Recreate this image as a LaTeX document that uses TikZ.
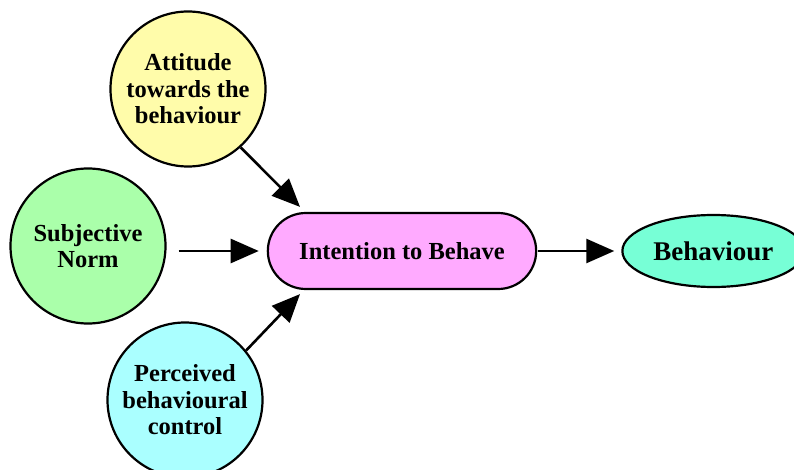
\documentclass[tikz,border=0pt]{standalone}
\usepackage{fontspec}
\setmainfont{Liberation Serif}
\usepackage{tikz}
\usetikzlibrary{arrows.meta,positioning,shapes.geometric,shapes.misc}
\usepackage{xcolor}
\definecolor{tpbyellow}{HTML}{FFFCAA}
\definecolor{tpbgreen}{HTML}{AAFFAA}
\definecolor{tpbcyan}{HTML}{AAFFFF}
\definecolor{tpbpink}{HTML}{FFAAFF}
\definecolor{tpbaqua}{HTML}{77FFD6}

\begin{document}
\begin{tikzpicture}[x=1pt, y=-1pt, node distance=84pt,
  every node/.style={font=\fontsize{24.5}{26.5}\selectfont\bfseries, line width=2.2pt, align=center},
  factor/.style={circle, draw, minimum size=155pt, inner sep=0pt},
  arr/.style={line width=2.6pt, -{Triangle[length=28pt,width=24pt]}}]
\useasboundingbox (0,0) rectangle (794,470);
\node[rounded rectangle, draw, fill=tpbpink, minimum width=275pt, minimum height=76pt] (int) at (402,251) {Intention to Behave};
\node[ellipse, draw, fill=tpbaqua, minimum width=182pt, minimum height=72pt, inner sep=0pt, right=of int, font=\fontsize{27}{29}\selectfont\bfseries] (beh) {Behaviour};
\node[factor, fill=tpbyellow] (att) at (188,89) {Attitude\\towards the\\behaviour};
\node[factor, fill=tpbgreen] (sub) at (88,246) {Subjective\\Norm};
\node[factor, fill=tpbcyan] (per) at (185,400) {Perceived\\behavioural\\control};
\draw[arr] (att.-48) -- ([xshift=-102pt,yshift=5pt]int.north);
\draw[arr, shorten <=12pt, shorten >=8pt] (int.west -| sub.east) -- (int.west);
\draw[arr] (per.39) -- ([xshift=-102pt,yshift=-4pt]int.south);
\draw[arr, shorten <=1pt, shorten >=7pt] (int.east) -- (beh.west);
\end{tikzpicture}
\end{document}
